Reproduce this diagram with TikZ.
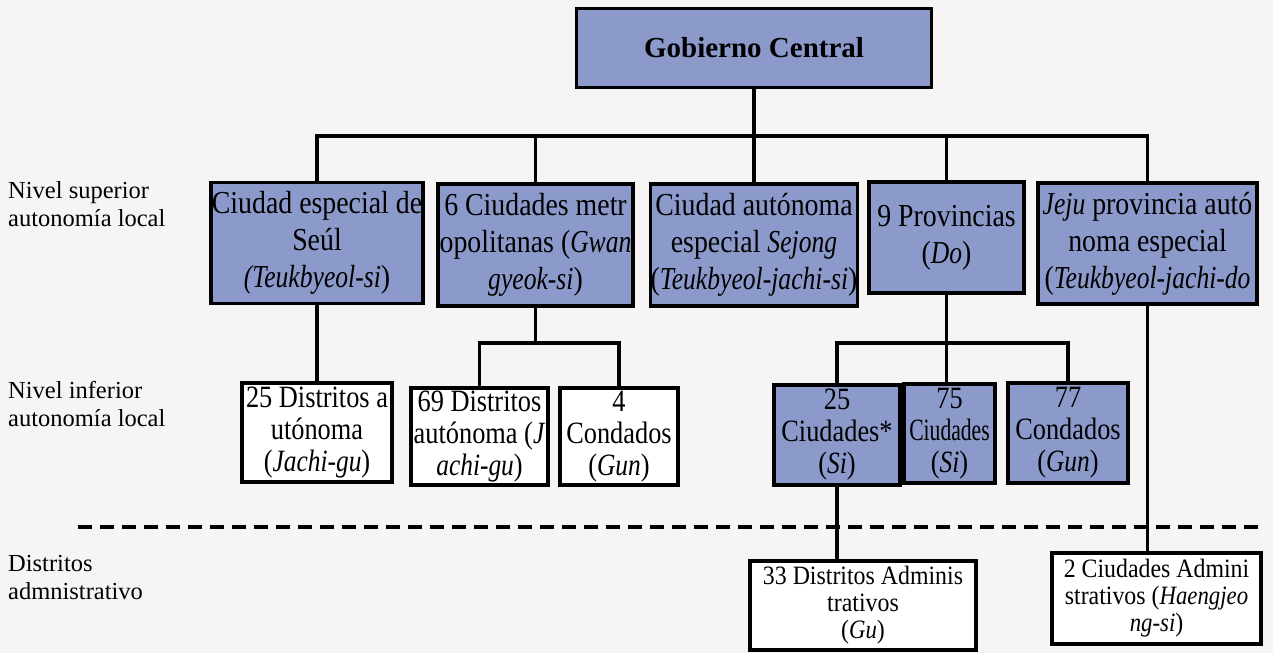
\documentclass[tikz,border=0pt]{standalone}
\usepackage{fontspec}
\setmainfont{Liberation Serif}
\newfontfamily\boxfont{Liberation Serif}[FakeStretch=0.87, ItalicFeatures={FakeStretch=0.80}]
\newfontfamily\smallboxfont{Liberation Serif}[FakeStretch=0.85, ItalicFeatures={FakeStretch=0.82}]
\newfontfamily\adminboxfont{Liberation Serif}[FakeStretch=0.9, ItalicFeatures={FakeStretch=0.86}]
\definecolor{boxblue}{RGB}{140,154,203}
\definecolor{paper}{RGB}{246,244,245}
\begin{document}
\begin{tikzpicture}[x=1pt,y=-1pt,
  box/.style={draw=black, line width=3.3pt, align=center, inner sep=0pt},
  bluebox/.style={box, fill=boxblue},
  whitebox/.style={box, fill=white},
  topfont/.style={font=\bfseries\fontsize{29}{34}\selectfont},
  upperfont/.style={font=\boxfont\fontsize{32}{37}\selectfont},
  lowerfont/.style={font=\smallboxfont\fontsize{31}{32}\selectfont},
  adminfont/.style={font=\adminboxfont\fontsize{26.5}{27}\selectfont},
  sidetext/.style={anchor=north west, align=left, inner sep=0pt, font=\fontsize{24.5}{28}\selectfont},
  link/.style={line width=3.3pt, line cap=rect, line join=miter},
  dashline/.style={line width=3.3pt, dash pattern=on 14pt off 8pt}
]
\fill[paper] (0,0) rectangle (1273,653);
\useasboundingbox (0,0) rectangle (1273,653);

% side labels
\node[sidetext] (lsup) at (8,181) {Nivel superior\\autonomía local};
\node[sidetext] (linf) at (8,381) {Nivel inferior\\autonomía local};
\node[sidetext] (ladm) at (8,555) {Distritos\\admnistrativo};

% dashed separator
\coordinate (dashL) at (78,527);
\coordinate (dashR) at (1262,527);
\draw[dashline] (dashL) -- (dashR);

% top
\node[bluebox, topfont, minimum width=355pt, minimum height=79pt] (gob) at (754,48) {Gobierno Central};

% upper level
\node[bluebox, upperfont, minimum width=212pt, minimum height=121pt] (seoul) at (317,243)
  {Ciudad especial de\\Seúl\\\textit{(Teukbyeol-si})};
\node[bluebox, upperfont, minimum width=195pt, minimum height=122pt] (metro) at (535.5,245)
  {6 Ciudades metr\\opolitanas (\textit{Gwan}\\\textit{gyeok-si})};
\node[bluebox, upperfont, minimum width=207pt, minimum height=122pt] (sejong) at (754,245)
  {Ciudad autónoma\\especial \textit{Sejong}\\(\textit{Teukbyeol-jachi-si})};
\node[bluebox, upperfont, minimum width=155pt, minimum height=111pt] (prov) at (946.5,237.5)
  {9 Provincias\\(\textit{Do})};
\node[bluebox, upperfont, minimum width=219pt, minimum height=121pt] (jeju) at (1147.5,243.5)
  {\textit{Jeju} provincia autó\\noma especial\\(\textit{Teukbyeol-jachi-do}};

% lower level
\node[whitebox, lowerfont, minimum width=150pt, minimum height=99pt] (d25) at (317,432.5)
  {25 Distritos a\\utónoma\\(\textit{Jachi-gu})};
\node[whitebox, lowerfont, minimum width=137pt, minimum height=97pt] (d69) at (479.5,436.5)
  {69 Distritos\\autónoma (\textit{J}\\\textit{achi-gu})};
\node[whitebox, lowerfont, minimum width=118pt, minimum height=97pt] (c4) at (619,436.5)
  {4\\Condados\\(\textit{Gun})};
\node[bluebox, lowerfont, minimum width=126pt, minimum height=100pt] (c25) at (837,435)
  {25\\Ciudades*\\(\textit{Si})};
\node[bluebox, lowerfont, minimum width=91pt, minimum height=99pt] (c75) at (949.5,433.5)
  {75\\\scalebox{0.82}[1]{Ciudades}\\(\textit{Si})};
\node[bluebox, lowerfont, minimum width=120pt, minimum height=100pt] (g77) at (1068,433)
  {77\\Condados\\(\textit{Gun})};

% administrative
\node[whitebox, adminfont, minimum width=226pt, minimum height=89pt] (a33) at (863,605.5)
  {33 Distritos Adminis\\trativos\\(\textit{Gu})};
\node[whitebox, adminfont, minimum width=209pt, minimum height=91pt] (a2) at (1156.5,598.5)
  {2 Ciudades Admini\\strativos (\textit{Haengjeo}\\\textit{ng-si})};

% connectors
\coordinate (bus) at (754,136);
\coordinate (sub1) at (535.5,343);
\coordinate (sub2) at (946.5,343);
\draw[link] (gob.south) -- (sejong.north);
\draw[link] (seoul.north) |- (bus) -| (jeju.north);
\draw[link] (metro.north) -- (metro.north |- bus);
\draw[link] (prov.north) -- (prov.north |- bus);

\draw[link] (seoul.south) -- (d25.north);
\draw[link] (metro.south) -- (sub1);
\draw[link] (d69.north) |- (sub1) -| (c4.north);
\draw[link] (prov.south) -- (prov.south |- c75.north);
\draw[link] (c25.north) |- (sub2) -| (g77.north);
\draw[link] (c25.south) -- (c25.south |- a33.north);
\draw[link] (jeju.south) -- (jeju.south |- a2.north);
\end{tikzpicture}
\end{document}
